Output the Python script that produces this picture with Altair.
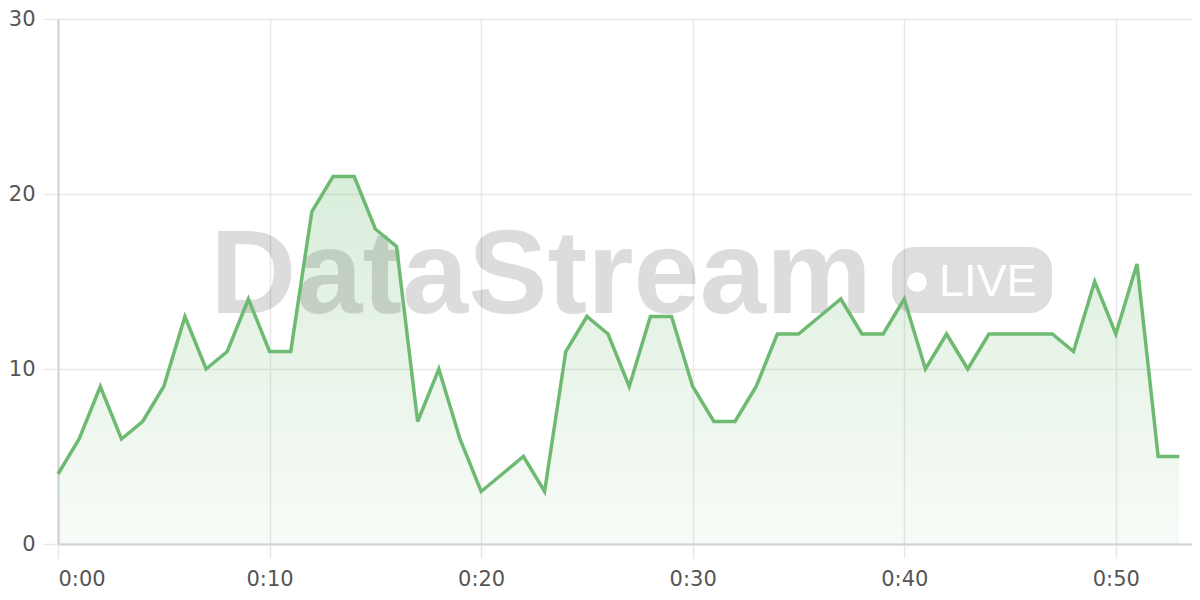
import altair as alt
import pandas as pd

minutes = list(range(54))
values = [4, 6, 9, 6, 7, 9, 13, 10, 11, 14,
          11, 11, 19, 21, 21, 18, 17, 7, 10, 6,
          3, 4, 5, 3, 11, 13, 12, 9, 13, 13,
          9, 7, 7, 9, 12, 12, 13, 14, 12, 12,
          14, 10, 12, 10, 12, 12, 12, 12, 11, 15,
          12, 16, 5, 5]
x_ticks = [0, 10, 20, 30, 40, 50]
y_ticks = [0, 10, 20, 30]
brand = ["DataStream"]
badge = ["LIVE"]

df = pd.DataFrame({"minute": minutes, "count": values})

GREEN = "#6fba72"
W, H = 1134, 525

xenc = alt.X("minute:Q", scale=alt.Scale(domain=[0, 53.6], nice=False, zero=False),
             axis=alt.Axis(values=x_ticks, title=None,
                           labelExpr="'0:' + (datum.value < 10 ? '0' : '') + datum.value",
                           tickSize=14, labelPadding=10))
yenc = alt.Y("count:Q", scale=alt.Scale(domain=[0, 30], nice=False),
             axis=alt.Axis(values=y_ticks, title=None, tickSize=15, labelPadding=8))

base = alt.Chart(df)

area = base.mark_area(
    color=alt.Gradient(
        gradient="linear",
        stops=[alt.GradientStop(color="rgba(111,186,114,0.05)", offset=0),
               alt.GradientStop(color="rgba(111,186,114,0.26)", offset=1)],
        x1=1, x2=1, y1=1, y2=0),
    interpolate="linear",
).encode(x=xenc, y=yenc)

line = base.mark_line(color=GREEN, strokeWidth=3.5, interpolate="linear").encode(x=xenc, y=yenc)

wm = alt.Chart(pd.DataFrame({"t": brand})).mark_text(
    font="Liberation Sans", fontWeight="bold", fontSize=119, color="#000", opacity=0.135,
    align="center", baseline="alphabetic",
).encode(text="t:N", x=alt.value(483), y=alt.value(294))

badge_rect = alt.Chart(pd.DataFrame({"t": badge})).mark_rect(
    color="#000", opacity=0.13, cornerRadius=22,
).encode(x=alt.value(834), x2=alt.value(994), y=alt.value(228), y2=alt.value(294))

badge_dot = alt.Chart(pd.DataFrame({"t": badge})).mark_circle(
    color="#ffffff", opacity=1, size=390,
).encode(x=alt.value(859), y=alt.value(263))

badge_text = alt.Chart(pd.DataFrame({"t": badge})).mark_text(
    font="Liberation Sans", fontSize=45, fontWeight=500, color="#ffffff", align="left",
    baseline="alphabetic",
).encode(text="t:N", x=alt.value(881), y=alt.value(277))

chart = alt.layer(area, wm, badge_rect, badge_dot, badge_text, line).properties(
    width=W, height=H,
    autosize=alt.AutoSizeParams(type="none"),
    padding={"left": 50, "top": 11, "right": 0, "bottom": 54},
).configure_view(stroke=None).configure_axis(
    gridColor="#e8e8e8", gridWidth=1.5,
    tickColor="#e8e8e8", tickWidth=1.5,
    domainColor="#d2d2d2", domainWidth=2,
    labelColor="#555555", labelFont="DejaVu Sans", labelFontSize=21,
)

chart.save("out.html", embed_options={"renderer": "svg", "actions": False})
